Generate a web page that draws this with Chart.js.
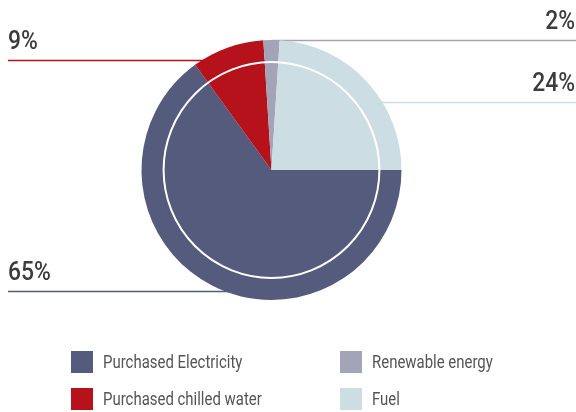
<!DOCTYPE html>
<html>
<head>
<meta charset="utf-8">
<script src="https://cdn.jsdelivr.net/npm/chart.js@4.4.1/dist/chart.umd.min.js"></script>
<style>
  html, body { margin: 0; padding: 0; background: #ffffff; }
  #wrap { width: 576px; height: 412px; position: relative; }
</style>
</head>
<body>
<div id="wrap"><canvas id="chart" width="576" height="412"></canvas></div>
<script>
// Energy mix by source (percent of total)
const categories = ['Purchased Electricity', 'Purchased chilled water', 'Renewable energy', 'Fuel'];
const values = [65, 9, 2, 24];
const colors = ['#545b7d', '#b5121b', '#a3a4b8', '#cddde4'];

// Legend grid order: column-major, two rows
const legendOrder = [0, 1, 2, 3];

// Callout layout per slice: side of the chart and leader line height
// expressed as a fraction of the radius from the pie centre
const callouts = [
  { side: 'left',  lineAt: 0.93 },
  { side: 'left',  lineAt: -0.85 },
  { side: 'right', lineAt: -1.0 },
  { side: 'right', lineAt: -0.52 }
];

const FONT = 'Roboto, "Liberation Sans", sans-serif';

// Draw text horizontally condensed, anchored at x according to align
function condensedText(ctx, txt, x, y, sx, align) {
  const w = ctx.measureText(txt).width * sx;
  const left = align === 'right' ? x - w : x;
  ctx.save();
  ctx.translate(left, y);
  ctx.scale(sx, 1);
  ctx.textAlign = 'left';
  ctx.fillText(txt, 0, 0);
  ctx.restore();
}

const calloutPlugin = {
  id: 'callouts',
  beforeDatasetsDraw(chart) {
    const ctx = chart.ctx;
    const arc = chart.getDatasetMeta(0).data[0];
    const cx = arc.x, cy = arc.y, r = arc.outerRadius;
    const W = chart.width;
    ctx.save();
    callouts.forEach((c, i) => {
      const y = Math.round(cy + c.lineAt * r) + 0.5;
      ctx.strokeStyle = colors[i];
      ctx.lineWidth = 1.6;
      ctx.beginPath();
      if (c.side === 'left') { ctx.moveTo(8, y); ctx.lineTo(cx, y); }
      else { ctx.moveTo(W, y); ctx.lineTo(cx, y); }
      ctx.stroke();
    });
    ctx.restore();
  },
  afterDatasetsDraw(chart) {
    const ctx = chart.ctx;
    const arc = chart.getDatasetMeta(0).data[0];
    const cx = arc.x, cy = arc.y, r = arc.outerRadius;
    const W = chart.width;
    ctx.save();
    // inner white ring
    ctx.strokeStyle = '#ffffff';
    ctx.lineWidth = 2;
    ctx.beginPath();
    ctx.arc(cx, cy, r * 0.83, 0, Math.PI * 2);
    ctx.stroke();

    // percentage labels above the leader lines
    ctx.fillStyle = '#3c3c3c';
    ctx.font = '500 26px ' + FONT;
    ctx.textBaseline = 'alphabetic';
    callouts.forEach((c, i) => {
      const y = Math.round(cy + c.lineAt * r) - 11.5;
      const txt = values[i] + '%';
      if (c.side === 'left') condensedText(ctx, txt, 8, y, 0.88, 'left');
      else condensedText(ctx, txt, W - 1, y, 0.88, 'right');
    });

    // legend grid
    ctx.font = '18px ' + FONT;
    ctx.textBaseline = 'middle';
    legendOrder.forEach((idx, k) => {
      const col = Math.floor(k / 2), row = k % 2;
      const x = 71 + col * 269;
      const y = 351 + row * 37;
      ctx.fillStyle = colors[idx];
      ctx.fillRect(x, y, 22, 22);
      ctx.fillStyle = '#555555';
      condensedText(ctx, categories[idx], x + 32, y + 12, 0.83, 'left');
    });
    ctx.restore();
  }
};

new Chart(document.getElementById('chart'), {
  type: 'pie',
  data: {
    labels: categories,
    datasets: [{
      data: values,
      backgroundColor: colors,
      borderWidth: 0
    }]
  },
  options: {
    responsive: false,
    animation: false,
    rotation: 90,
    layout: { padding: { top: 40, bottom: 112, left: 0, right: 33 } },
    plugins: {
      legend: { display: false },
      tooltip: { enabled: false }
    }
  },
  plugins: [calloutPlugin]
});
</script>
</body>
</html>
